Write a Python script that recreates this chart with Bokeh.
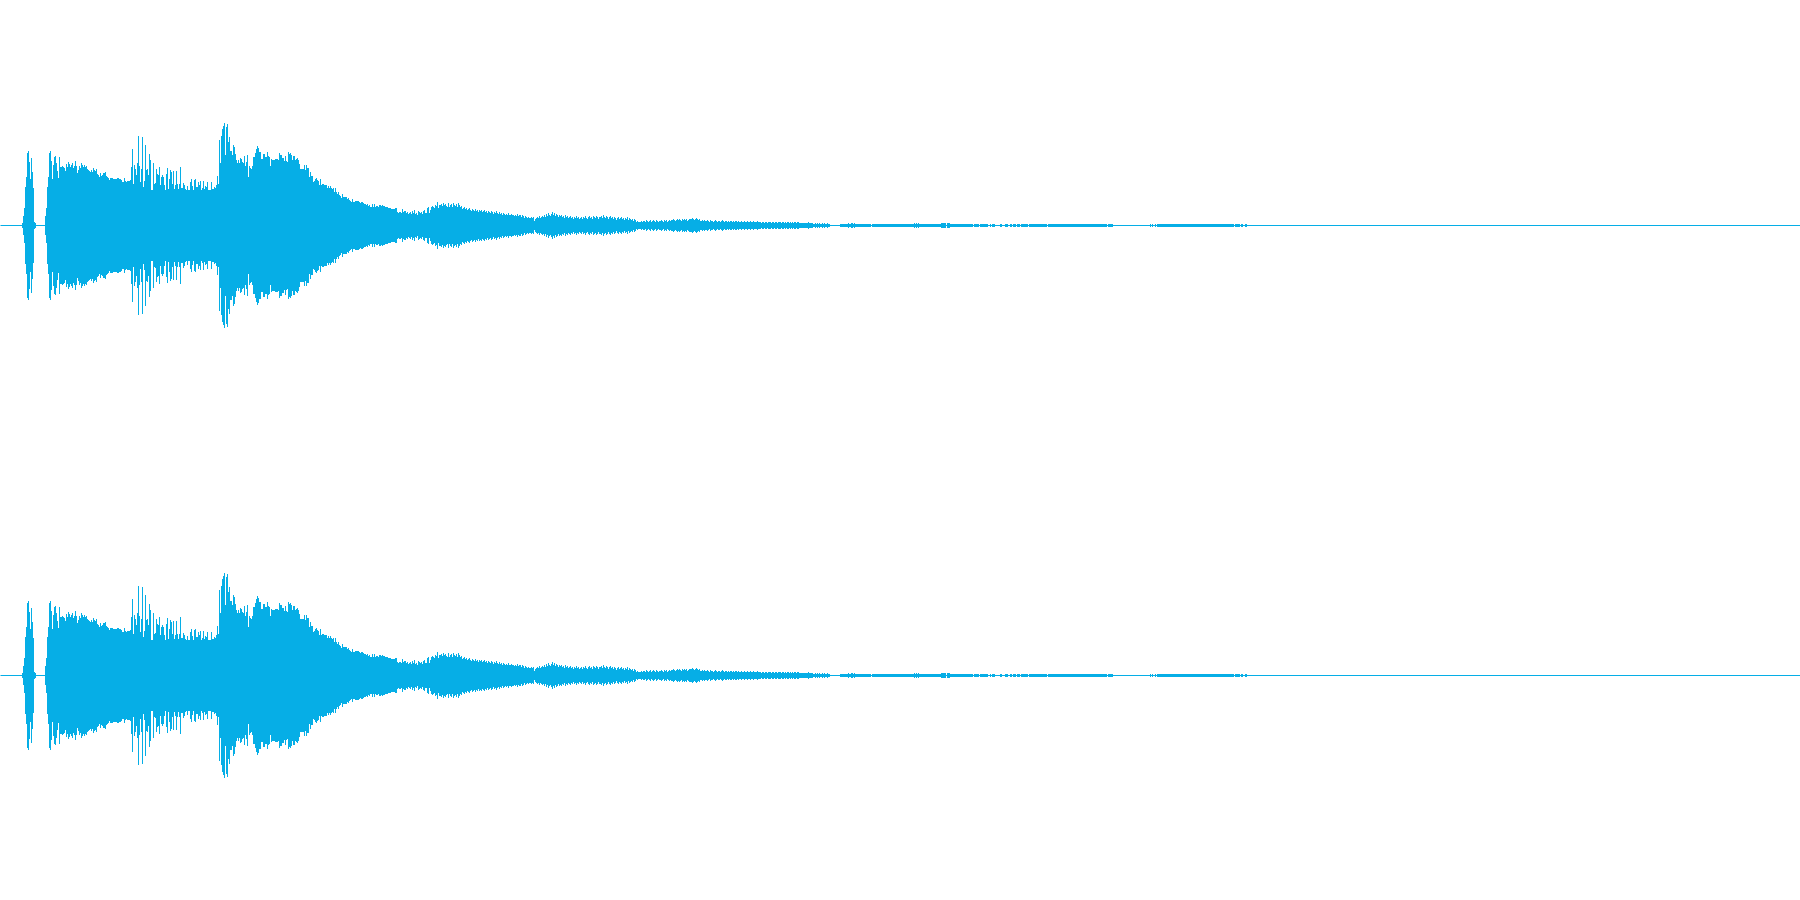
from bokeh.embed import file_html
from bokeh.layouts import column
from bokeh.models import Range1d
from bokeh.plotting import figure
from bokeh.resources import INLINE

COLOR = "#06AEE6"

# Peak level of each waveform column; rows of ten, first column at 20.
first_column = 20
peak = [
    0, 0, 2, 9, 17, 38, 48, 72, 74, 63,
    46, 67, 53, 37, 3, 2, 0, 0, 0, 0,
    0, 0, 0, 0, 0, 9, 17, 38, 48, 72,
    74, 64, 46, 60, 68, 69, 62, 54, 47, 68,
    58, 58, 59, 58, 57, 54, 61, 58, 63, 61,
    58, 60, 62, 57, 59, 64, 59, 52, 55, 59,
    57, 62, 60, 58, 60, 58, 59, 56, 55, 54,
    53, 55, 53, 57, 55, 54, 56, 51, 50, 48,
    52, 49, 50, 52, 52, 53, 49, 48, 47, 45,
    47, 47, 47, 46, 46, 46, 46, 47, 47, 46,
    46, 45, 43, 43, 47, 44, 43, 44, 44, 44,
    45, 58, 76, 41, 60, 56, 50, 62, 89, 59,
    43, 56, 88, 38, 44, 80, 55, 56, 50, 71,
    65, 35, 35, 62, 41, 42, 56, 51, 50, 58,
    40, 48, 50, 48, 40, 35, 51, 57, 36, 46,
    55, 53, 41, 54, 36, 40, 54, 41, 36, 41,
    58, 37, 37, 42, 40, 36, 35, 39, 35, 35,
    43, 46, 39, 35, 45, 46, 38, 38, 43, 40,
    44, 35, 37, 44, 36, 39, 38, 43, 35, 35,
    35, 43, 36, 36, 38, 37, 40, 49, 41, 85,
    62, 89, 96, 99, 102, 70, 98, 101, 83, 88,
    74, 74, 70, 80, 78, 71, 65, 62, 65, 62,
    67, 66, 63, 62, 69, 59, 63, 70, 48, 59,
    57, 56, 59, 68, 68, 72, 76, 79, 77, 73,
    73, 66, 66, 71, 71, 68, 68, 73, 69, 68,
    59, 66, 65, 65, 65, 66, 66, 66, 65, 72,
    70, 70, 67, 67, 64, 69, 64, 63, 73, 71,
    72, 70, 65, 69, 69, 65, 66, 67, 65, 61,
    56, 56, 56, 56, 60, 55, 60, 57, 57, 48,
    53, 49, 49, 43, 44, 46, 47, 45, 44, 40,
    46, 40, 41, 41, 40, 40, 40, 37, 39, 37,
    39, 37, 36, 37, 33, 37, 33, 31, 33, 30,
    29, 27, 31, 28, 28, 28, 28, 26, 27, 25,
    24, 23, 26, 23, 23, 24, 24, 24, 24, 23,
    22, 23, 23, 22, 21, 21, 20, 21, 19, 20,
    18, 18, 21, 18, 21, 18, 19, 19, 18, 20,
    20, 19, 20, 19, 19, 18, 18, 18, 17, 17,
    17, 16, 16, 16, 16, 17, 17, 13, 12, 13,
    13, 12, 16, 13, 14, 14, 12, 13, 11, 12,
    13, 11, 14, 12, 15, 11, 12, 10, 14, 13,
    12, 13, 11, 14, 15, 12, 12, 17, 18, 12,
    15, 18, 19, 18, 17, 20, 19, 23, 17, 20,
    20, 21, 19, 22, 20, 21, 19, 18, 22, 18,
    20, 21, 18, 22, 20, 19, 21, 18, 22, 20,
    18, 19, 16, 17, 18, 16, 17, 15, 16, 17,
    15, 14, 16, 15, 14, 16, 14, 15, 13, 15,
    14, 15, 13, 14, 15, 13, 14, 12, 14, 13,
    12, 14, 13, 11, 13, 12, 14, 12, 11, 13,
    11, 12, 10, 12, 11, 10, 11, 10, 12, 10,
    10, 11, 10, 10, 9, 10, 9, 11, 9, 10,
    10, 8, 10, 9, 7, 9, 8, 7, 8, 7,
    7, 8, 7, 8, 4, 6, 7, 8, 7, 9,
    7, 8, 9, 8, 10, 8, 11, 9, 12, 10,
    9, 11, 13, 10, 12, 9, 11, 10, 8, 10,
    9, 10, 8, 9, 7, 10, 8, 9, 7, 8,
    9, 7, 8, 6, 8, 7, 9, 7, 8, 6,
    7, 8, 6, 8, 7, 9, 7, 6, 8, 9,
    7, 8, 6, 9, 8, 7, 9, 8, 6, 8,
    8, 9, 7, 10, 8, 7, 9, 8, 6, 8,
    9, 7, 8, 6, 8, 7, 5, 7, 8, 6,
    7, 8, 6, 7, 5, 7, 6, 8, 5, 7,
    6, 5, 6, 4, 6, 5, 3, 4, 3, 3,
    3, 4, 3, 4, 4, 3, 5, 4, 3, 4,
    5, 3, 4, 5, 4, 3, 5, 4, 3, 4,
    4, 5, 4, 3, 5, 4, 5, 3, 4, 5,
    4, 5, 5, 6, 5, 4, 5, 6, 5, 6,
    5, 4, 6, 5, 6, 5, 6, 4, 5, 6,
    6, 6, 7, 6, 5, 6, 7, 6, 5, 6,
    4, 4, 5, 4, 5, 4, 4, 5, 4, 3,
    5, 4, 4, 3, 4, 5, 4, 3, 4, 4,
    3, 4, 5, 4, 3, 4, 4, 3, 4, 3,
    4, 4, 3, 4, 3, 4, 4, 3, 4, 3,
    3, 4, 3, 3, 4, 3, 3, 4, 3, 3,
    4, 3, 3, 4, 3, 3, 3, 4, 3, 3,
    3, 2, 3, 3, 2, 3, 3, 2, 3, 3,
    3, 2, 3, 3, 2, 3, 3, 2, 3, 3,
    3, 2, 3, 3, 2, 3, 2, 3, 3, 2,
    3, 2, 3, 2, 3, 3, 2, 3, 3, 2,
    2, 2, 2, 2, 2, 2, 2, 2, 3, 2,
    2, 2, 2, 1, 1, 2, 1, 2, 1, 2,
    1, 1, 2, 1, 2, 1, 1, 2, 1, 1,
]

# Quiet tail: runs of columns that share one level.
tail_start = [840, 848, 849, 851, 853, 854, 855, 872, 914, 915, 916, 917, 918, 919,
              941, 945, 947, 950, 974, 980, 990, 992, 1000, 1005, 1010, 1013, 1017,
              1021, 1029, 1048, 1108, 1150, 1152, 1155, 1157, 1235, 1241, 1245]
tail_end = [848, 849, 851, 853, 854, 855, 871, 914, 915, 916, 917, 918, 919, 941,
            945, 946, 950, 973, 979, 988, 991, 995, 1002, 1008, 1012, 1016, 1020,
            1028, 1047, 1107, 1113, 1151, 1153, 1156, 1234, 1240, 1243, 1247]
tail_peak = [1, 2, 1, 2, 1, 2, 1, 1, 2, 1, 2, 1, 2, 1,
             2, 2, 2, 1, 1, 1, 1, 1, 1, 1, 1, 1, 1,
             1, 1, 1, 1, 1, 1, 1, 1, 1, 1, 1]

x_domain = (0, 1800)
baseline = [0]


def channel():
    # The ranges are offset by half a pixel so that column edges land on whole pixels.
    p = figure(width=1800, height=450, x_range=Range1d(x_domain[0] + 0.5, x_domain[1] + 0.5),
               y_range=Range1d(-225, 225),
               x_axis_type=None, y_axis_type=None, output_backend="svg", toolbar_location=None,
               min_border=0, outline_line_color=None, background_fill_color="white",
               border_fill_color="white", margin=0)
    p.xgrid.visible = False
    p.ygrid.visible = False
    left = [first_column + i for i in range(len(peak))] + tail_start
    right = [first_column + i + 1 for i in range(len(peak))] + tail_end
    level = peak + tail_peak
    p.quad(left=left, right=right, top=[v + 0.5 for v in level], bottom=[-v - 0.5 for v in level],
           fill_color=COLOR, fill_alpha=1.0, line_color=None)
    p.quad(left=[x_domain[0]], right=[x_domain[1] + 1], top=[b + 0.5 for b in baseline],
           bottom=[b - 0.5 for b in baseline], fill_color=COLOR, fill_alpha=1.0, line_color=None)
    return p


layout = column(channel(), channel(), spacing=0, margin=0)
open("out.html", "w").write(file_html(layout, INLINE))
